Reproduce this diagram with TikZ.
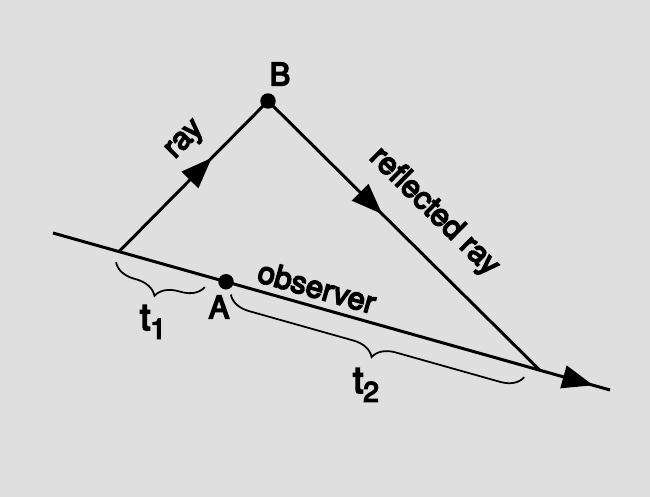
\documentclass[tikz,border=0pt]{standalone}
\usepackage{fontspec}
\setmainfont{TeX Gyre Heros}
\font\lblfnt="TeX Gyre Heros:embolden=5" at 17.6pt
\font\tfnt="TeX Gyre Heros:embolden=5" at 21pt
\font\subfnt="TeX Gyre Heros:embolden=5" at 16pt
\usetikzlibrary{calc,arrows.meta,decorations.markings,decorations.pathreplacing}
\definecolor{bggray}{RGB}{223,223,223}
\begin{document}
\begin{tikzpicture}[x=0.02cm,y=-0.02cm,line width=1.7pt,
  dot/.style={circle,fill=black,inner sep=0pt,minimum size=0.31cm},
  lbl/.style={inner sep=0pt,font=\lblfnt},
  tlbl/.style={inner sep=0pt,font=\tfnt},
  midarrow/.style={postaction={decorate},decoration={markings,
    mark=at position #1 with {\arrow{Triangle[length=0.62cm,width=0.46cm]}}}},
  tbrace/.style={line width=1pt,decorate,
    decoration={brace,mirror,amplitude=0.44cm,raise=0.22cm}}]
\fill[bggray] (0,0) rectangle (650,497);
\useasboundingbox (0,0) rectangle (650,497);
\coordinate (obsstart) at (53,233);
\coordinate (obsend) at (610,390);
\coordinate (E) at ($(obsstart)!0.1185!(obsend)$);
\coordinate (R) at ($(obsstart)!0.874!(obsend)$);
\node[dot] (A) at ($(obsstart)!0.3106!(obsend)$) {};
\node[dot] (B) at (268,101) {};
\draw[midarrow=0.97] (obsstart) -- (obsend);
\draw[midarrow=0.624] (E) -- (B.center);
\draw[midarrow=0.42] (B.center) -- (R);
\draw[tbrace] (E) -- ($(E)!0.83!(A.center)$);
\draw[tbrace] ($(A.center)!0.025!(R)$) -- ($(A.center)!0.96!(R)$);
\node[lbl] (labB) at (280,74) {B};
\node[lbl] (labA) at (219,307) {A};
\node[lbl,rotate=45] (labray) at (186,141) {ray};
\node[lbl,rotate=-44.6] (labrefl) at (434,212) {reflected ray};
\node[lbl,rotate=-15.7] (labobs) at (317,287) {observer};
\node[tlbl] (labtone) at (153,322) {t\raisebox{-5pt}{\subfnt 1}};
\node[tlbl] (labttwo) at (366,385) {t\raisebox{-5pt}{\subfnt 2}};
\end{tikzpicture}
\end{document}
